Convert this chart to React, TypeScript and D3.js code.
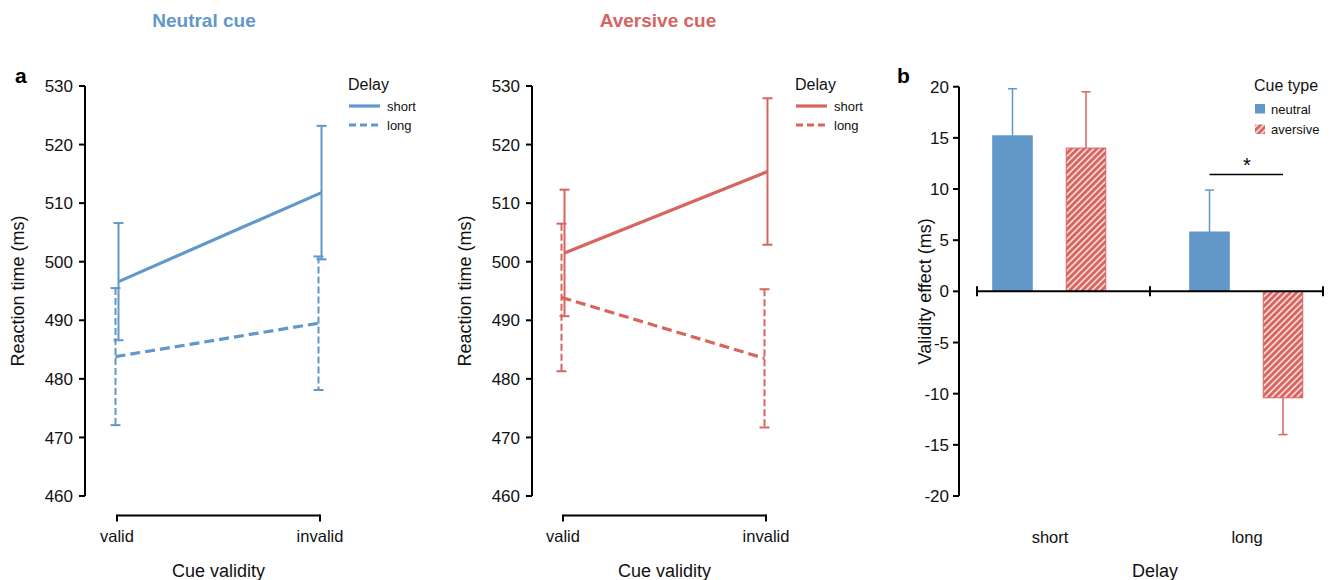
import React from "react";
import * as d3 from "d3";

const BLUE = "#6198c9";
const RED = "#d6645f";
const FONT = "'Liberation Sans', Arial, Helvetica, sans-serif";

// ---- Panel a data ----
const cueValidity = ["valid", "invalid"];
const delays = ["short", "long"];
const rtTicks = [460, 470, 480, 490, 500, 510, 520, 530];

const neutralShortMean = [496.6, 511.8];
const neutralShortSE = [10.0, 11.4];
const neutralLongMean = [483.8, 489.5];
const neutralLongSE = [11.7, 11.4];

const aversiveShortMean = [501.5, 515.4];
const aversiveShortSE = [10.8, 12.5];
const aversiveLongMean = [493.9, 483.5];
const aversiveLongSE = [12.6, 11.8];

// ---- Panel b data ----
const cueTypes = ["neutral", "aversive"];
const effectTicks = [-20, -15, -10, -5, 0, 5, 10, 15, 20];
const neutralEffect = [15.2, 5.8];
const neutralEffectErr = [4.6, 4.1];
const aversiveEffect = [14.0, -10.4];
const aversiveEffectErr = [5.5, 3.6];

type Series = { delay: string; mean: number[]; se: number[] };

function LinePanel(props: {
  axisX: number;
  xRange: [number, number];
  color: string;
  series: Series[];
  title: string;
  titleX: number;
  yTitleX: number;
}) {
  const { axisX, xRange, color, series, title, titleX, yTitleX } = props;
  const y = d3.scaleLinear().domain([460, 530]).range([496, 86]);
  const x = d3.scalePoint<string>().domain(cueValidity).range(xRange);
  const dodge: Record<string, number> = { short: 1.5, long: -1.5 };
  const lineGen = d3
    .line<[number, number]>()
    .x((d) => d[0])
    .y((d) => d[1]);
  const xAxisY = 515.5;
  const legendX = axisX + 263;
  return (
    <g>
      <text x={titleX} y={27} textAnchor="middle" fontWeight="bold" fontSize={19} fill={color} fontFamily={FONT}>
        {title}
      </text>
      {/* y axis */}
      <line x1={axisX} x2={axisX} y1={y(530)} y2={y(460)} stroke="#000" strokeWidth={2} />
      {rtTicks.map((t) => (
        <g key={t}>
          <line x1={axisX - 6} x2={axisX} y1={y(t)} y2={y(t)} stroke="#000" strokeWidth={2} />
          <text x={axisX - 12} y={y(t)} dy="0.36em" textAnchor="end" fontSize={17} fontFamily={FONT} fill="#111">
            {t}
          </text>
        </g>
      ))}
      <text
        transform={`translate(${yTitleX},${(y(530) + y(460)) / 2}) rotate(-90)`}
        textAnchor="middle"
        fontSize={18}
        fontFamily={FONT}
        fill="#111"
      >
        Reaction time (ms)
      </text>
      {/* x axis */}
      <line x1={xRange[0]} x2={xRange[1]} y1={xAxisY} y2={xAxisY} stroke="#000" strokeWidth={2} />
      {cueValidity.map((c) => (
        <g key={c}>
          <line x1={x(c)!} x2={x(c)!} y1={xAxisY - 1} y2={xAxisY + 6} stroke="#000" strokeWidth={2} />
          <text x={x(c)!} y={542} textAnchor="middle" fontSize={16.5} fontFamily={FONT} fill="#111">
            {c}
          </text>
        </g>
      ))}
      <text x={(xRange[0] + xRange[1]) / 2} y={577} textAnchor="middle" fontSize={18} fontFamily={FONT} fill="#111">
        Cue validity
      </text>
      {/* data */}
      {series.map((s) => {
        const dash = s.delay === "long" ? "7,3" : undefined;
        const pts: [number, number][] = cueValidity.map((c, i) => [x(c)! + dodge[s.delay], y(s.mean[i])]);
        return (
          <g key={s.delay}>
            {cueValidity.map((c, i) => {
              const cx = x(c)! + dodge[s.delay];
              const top = y(s.mean[i] + s.se[i]);
              const bot = y(s.mean[i] - s.se[i]);
              return (
                <g key={c}>
                  <line x1={cx} x2={cx} y1={top} y2={bot} stroke={color} strokeWidth={2} strokeDasharray={dash} />
                  <line x1={cx - 5} x2={cx + 5} y1={top} y2={top} stroke={color} strokeWidth={2} />
                  <line x1={cx - 5} x2={cx + 5} y1={bot} y2={bot} stroke={color} strokeWidth={2} />
                </g>
              );
            })}
            <path
              d={lineGen(pts)!}
              fill="none"
              stroke={color}
              strokeWidth={3.2}
              strokeDasharray={s.delay === "long" ? "10,5" : undefined}
            />
          </g>
        );
      })}
      {/* legend */}
      <text x={legendX} y={90} fontSize={16} fontFamily={FONT} fill="#111">
        Delay
      </text>
      {delays.map((dl, i) => (
        <g key={dl}>
          <line
            x1={legendX + 1}
            x2={legendX + 32}
            y1={106 + i * 19}
            y2={106 + i * 19}
            stroke={color}
            strokeWidth={3.2}
            strokeDasharray={dl === "long" ? "7,4" : undefined}
          />
          <text x={legendX + 39} y={106 + i * 19} dy="0.35em" fontSize={13} fontFamily={FONT} fill="#111">
            {dl}
          </text>
        </g>
      ))}
    </g>
  );
}

function BarPanel() {
  const axisX = 959;
  const y = d3.scaleLinear().domain([-20, 20]).range([496, 86.7]);
  const band = d3.scaleBand<string>().domain(delays).range([977, 1323]);
  const groupCenter = d3.scalePoint<string>().domain(delays).range([1050, 1247]);
  const sub = d3.scalePoint<string>().domain(cueTypes).range([-37.5, 36]);
  const barW = 39.5;
  const values: Record<string, number[]> = { neutral: neutralEffect, aversive: aversiveEffect };
  const errs: Record<string, number[]> = { neutral: neutralEffectErr, aversive: aversiveEffectErr };
  const zeroY = y(0);
  const edges = [band.range()[0], ...delays.map((d) => band(d)! + band.bandwidth())];
  return (
    <g>
      <defs>
        <pattern id="hatch" patternUnits="userSpaceOnUse" width={4.5} height={4.5} patternTransform="rotate(45)">
          <rect width={4.5} height={4.5} fill={RED} />
          <line x1={1} x2={1} y1={0} y2={4.5} stroke="#fff" strokeWidth={1.3} />
        </pattern>
      </defs>
      <text x={897} y={83} fontSize={21} fontWeight="bold" fontFamily={FONT} fill="#000">
        b
      </text>
      {/* y axis */}
      <line x1={axisX} x2={axisX} y1={y(20)} y2={y(-20)} stroke="#000" strokeWidth={2} />
      {effectTicks.map((t) => (
        <g key={t}>
          <line x1={axisX - 6} x2={axisX} y1={y(t)} y2={y(t)} stroke="#000" strokeWidth={2} />
          <text x={axisX - 10} y={y(t)} dy="0.36em" textAnchor="end" fontSize={17} fontFamily={FONT} fill="#111">
            {t}
          </text>
        </g>
      ))}
      <text
        transform={`translate(${931},${(y(20) + y(-20)) / 2}) rotate(-90)`}
        textAnchor="middle"
        fontSize={18}
        fontFamily={FONT}
        fill="#111"
      >
        Validity effect (ms)
      </text>
      {/* bars */}
      {cueTypes.map((ct) =>
        delays.map((dl, i) => {
          const v = values[ct][i];
          const e = errs[ct][i];
          const cx = groupCenter(dl)! + sub(ct)!;
          const color = ct === "neutral" ? BLUE : RED;
          const yTop = y(Math.max(0, v));
          const yBot = y(Math.min(0, v));
          const errEnd = y(v >= 0 ? v + e : v - e);
          const errStart = y(v);
          return (
            <g key={ct + dl}>
              <line x1={cx} x2={cx} y1={errStart} y2={errEnd} stroke={color} strokeWidth={1.5} />
              <line x1={cx - 4.5} x2={cx + 4.5} y1={errEnd} y2={errEnd} stroke={color} strokeWidth={1.5} />
              <rect
                x={cx - barW / 2}
                y={yTop}
                width={barW}
                height={yBot - yTop}
                fill={ct === "neutral" ? BLUE : "url(#hatch)"}
                stroke={color}
                strokeWidth={1}
              />
            </g>
          );
        })
      )}
      {/* x axis at zero */}
      <line x1={edges[0]} x2={edges[edges.length - 1]} y1={zeroY} y2={zeroY} stroke="#000" strokeWidth={2} />
      {edges.map((ex, i) => (
        <line key={i} x1={ex} x2={ex} y1={zeroY - 5} y2={zeroY + 5} stroke="#000" strokeWidth={2} />
      ))}
      {delays.map((dl) => (
        <text key={dl} x={groupCenter(dl)!} y={543} textAnchor="middle" fontSize={16.5} fontFamily={FONT} fill="#111">
          {dl}
        </text>
      ))}
      <text x={1155} y={577} textAnchor="middle" fontSize={18} fontFamily={FONT} fill="#111">
        Delay
      </text>
      {/* significance */}
      <line
        x1={groupCenter("long")! + sub("neutral")!}
        x2={groupCenter("long")! + sub("aversive")!}
        y1={174.5}
        y2={174.5}
        stroke="#000"
        strokeWidth={1.5}
      />
      <text x={groupCenter("long")!} y={172} textAnchor="middle" fontSize={20} fontFamily={FONT} fill="#000">
        *
      </text>
      {/* legend */}
      <text x={1254} y={91} fontSize={16} fontFamily={FONT} fill="#111">
        Cue type
      </text>
      {cueTypes.map((ct, i) => (
        <g key={ct}>
          <rect
            x={1255}
            y={104 + i * 20.5}
            width={10}
            height={9.5}
            fill={ct === "neutral" ? BLUE : "url(#hatch)"}
          />
          <text x={1271} y={109 + i * 20.5} dy="0.35em" fontSize={13} fontFamily={FONT} fill="#111">
            {ct}
          </text>
        </g>
      ))}
    </g>
  );
}

export default function App() {
  const neutralSeries: Series[] = [
    { delay: "short", mean: neutralShortMean, se: neutralShortSE },
    { delay: "long", mean: neutralLongMean, se: neutralLongSE },
  ];
  const aversiveSeries: Series[] = [
    { delay: "short", mean: aversiveShortMean, se: aversiveShortSE },
    { delay: "long", mean: aversiveLongMean, se: aversiveLongSE },
  ];
  return (
    <svg
      width={1333}
      height={580}
      style={{ position: "absolute", left: 0, top: 0, background: "#fff" }}
      fontFamily={FONT}
    >
      <rect width={1333} height={580} fill="#fff" />
      <text x={15} y={83} fontSize={21} fontWeight="bold" fontFamily={FONT} fill="#000">
        a
      </text>
      <LinePanel
        axisX={85}
        xRange={[117, 320]}
        color={BLUE}
        series={neutralSeries}
        title="Neutral cue"
        titleX={204}
        yTitleX={24}
      />
      <LinePanel
        axisX={532}
        xRange={[563, 766]}
        color={RED}
        series={aversiveSeries}
        title="Aversive cue"
        titleX={658}
        yTitleX={471}
      />
      <BarPanel />
    </svg>
  );
}
